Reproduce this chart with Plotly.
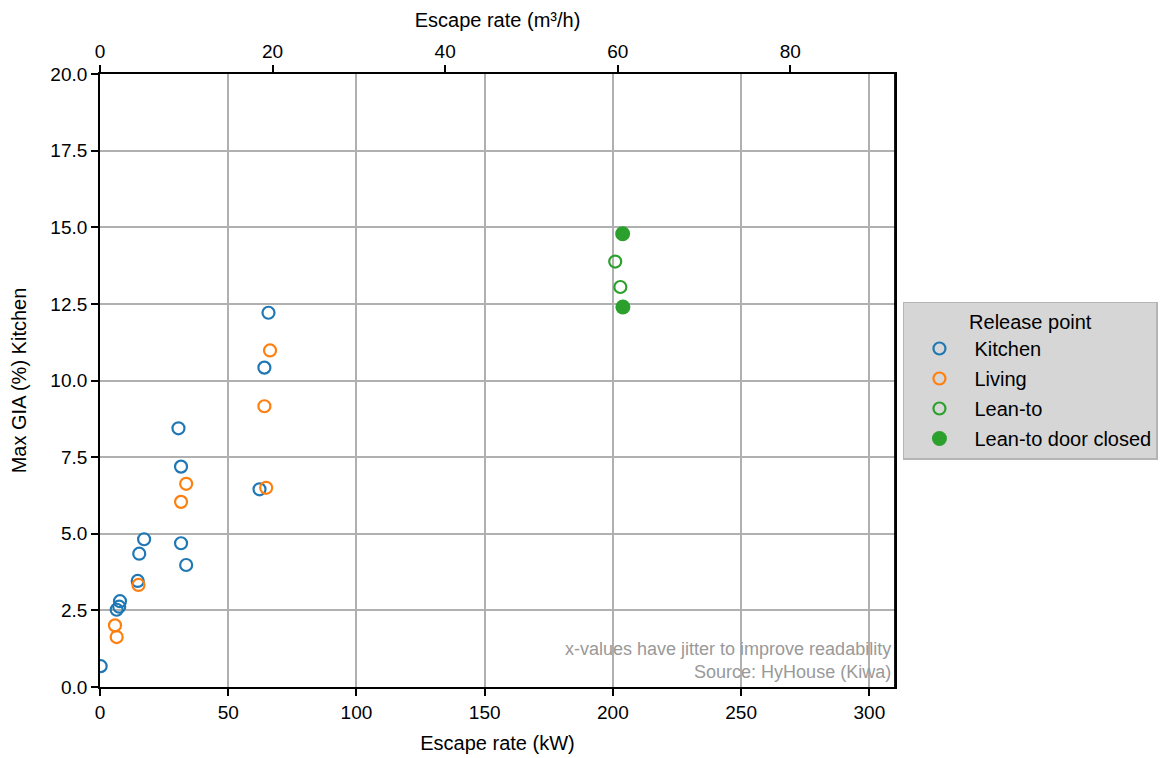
import plotly.graph_objects as go

# Data (escape rate in kW, with jitter; max GIA % in kitchen)
kitchen_x = [0.25, 6.5, 7.5, 7.8, 14.7, 15.3, 17.2, 31.6, 33.6, 30.6, 31.6, 62.2, 64.1, 65.7]
kitchen_y = [0.68, 2.52, 2.62, 2.80, 3.46, 4.35, 4.82, 4.69, 3.98, 8.44, 7.19, 6.45, 10.42, 12.21]
living_x = [5.85, 6.5, 15.0, 33.6, 31.6, 64.1, 64.8, 66.3]
living_y = [2.01, 1.63, 3.33, 6.63, 6.04, 9.16, 6.50, 10.98]
leanto_x = [200.9, 202.9]
leanto_y = [13.88, 13.05]
closed_x = [203.8, 203.9]
closed_y = [14.79, 12.40]

KW_PER_M3H = 3.365
X_MAX = 310
Y_TICKS = [0, 2.5, 5, 7.5, 10, 12.5, 15, 17.5, 20]
X_TICKS = [0, 50, 100, 150, 200, 250, 300]
TOP_TICKS = [0, 20, 40, 60, 80]

BLUE, ORANGE, GREEN = "#1f77b4", "#ff7f0e", "#2ca02c"
FONT = "Liberation Sans, Arial, sans-serif"
TICK_SIZE = 19
TITLE_SIZE = 20

fig = go.Figure()

def open_trace(x, y, color, name):
    return go.Scatter(x=x, y=y, mode="markers", name=name, legendgroup=name,
                      cliponaxis=True,
                      marker=dict(symbol="circle-open", size=12, color=color,
                                  line=dict(width=2.2, color=color)))

fig.add_trace(open_trace(kitchen_x, kitchen_y, BLUE, "Kitchen"))
fig.add_trace(open_trace(living_x, living_y, ORANGE, "Living"))
fig.add_trace(open_trace(leanto_x, leanto_y, GREEN, "Lean-to"))
fig.add_trace(go.Scatter(x=closed_x, y=closed_y, mode="markers", name="Lean-to door closed",
                         legendgroup="closed",
                         marker=dict(symbol="circle", size=15, color=GREEN)))
# invisible trace to activate the top axis
fig.add_trace(go.Scatter(x=[0], y=[0], xaxis="x2", mode="markers",
                         marker=dict(opacity=0), showlegend=False, hoverinfo="skip"))

axis_common = dict(showline=True, linecolor="black", linewidth=1.8,
                   ticks="outside", ticklen=7, tickwidth=1.8, tickcolor="black",
                   tickfont=dict(size=TICK_SIZE, color="black", family=FONT),
                   zeroline=False, automargin=False)

fig.update_layout(
    width=1170, height=758,
    paper_bgcolor="white", plot_bgcolor="white",
    margin=dict(l=92, r=283, t=66, b=79, autoexpand=False),
    font=dict(family=FONT, color="black", size=TICK_SIZE),
    xaxis=dict(range=[0, X_MAX], tickvals=X_TICKS, showgrid=True,
               gridcolor="#b0b0b0", gridwidth=2, mirror=False,
               title=dict(text="Escape rate (kW)", font=dict(size=TITLE_SIZE), standoff=14),
               **axis_common),
    xaxis2=dict(range=[0, X_MAX / KW_PER_M3H], tickvals=TOP_TICKS, overlaying="x",
                side="top", showgrid=False, anchor="y",
                title=dict(text="Escape rate (m³/h)", font=dict(size=TITLE_SIZE), standoff=8),
                **axis_common),
    yaxis=dict(range=[0, 20], tickvals=Y_TICKS, tickformat=".1f", showgrid=True,
               gridcolor="#b0b0b0", gridwidth=2, mirror=True,
               title=dict(text="Max GIA (%) Kitchen", font=dict(size=TITLE_SIZE), standoff=19),
               **axis_common),
    legend=dict(x=1.01, y=0.5, xanchor="left", yanchor="middle",
                bgcolor="#d6d6d6", bordercolor="#b5b5b5", borderwidth=1.5,
                font=dict(size=TITLE_SIZE, family=FONT),
                title=dict(text="Release point", side="top center", font=dict(size=TITLE_SIZE)),
                itemwidth=60, traceorder="grouped", tracegroupgap=1),
    annotations=[dict(xref="paper", yref="paper", x=0.997, y=0.005,
                      xanchor="right", yanchor="bottom", align="right", showarrow=False,
                      text="x-values have jitter to improve readability<br>Source: HyHouse (Kiwa)",
                      font=dict(size=18, color="#999999", family=FONT))],
)

# right spine
fig.add_shape(type="line", xref="paper", yref="paper", x0=1, x1=1, y0=0, y1=1,
              line=dict(color="black", width=1.8))

fig.write_html("out.html")
